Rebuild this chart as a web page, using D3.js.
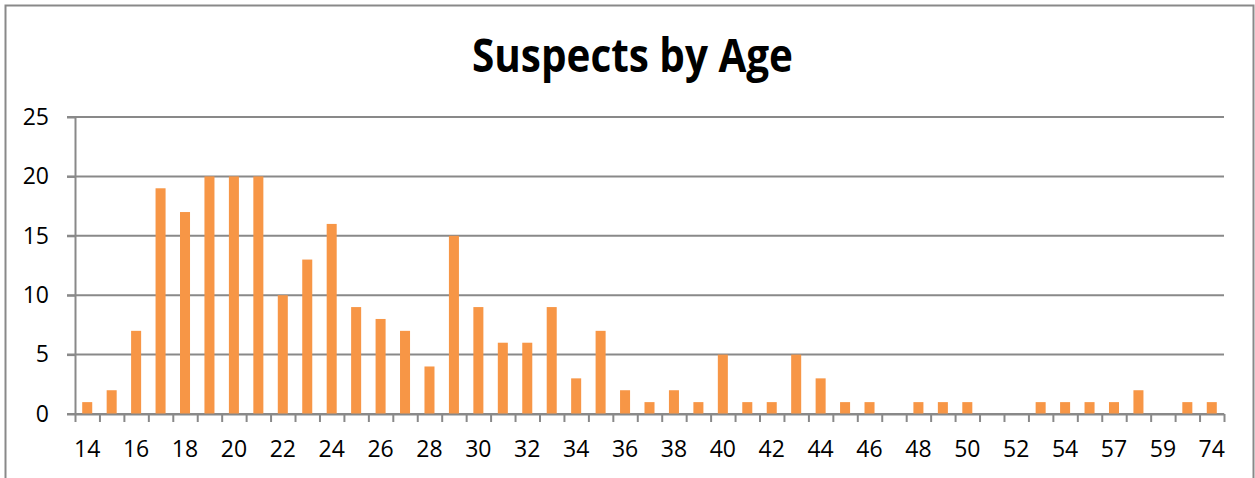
<!DOCTYPE html>
<html>
<head>
<meta charset="utf-8">
<script src="https://cdn.jsdelivr.net/npm/d3@7"></script>
<style>
  html, body { margin: 0; padding: 0; background: #fff; }
  svg { display: block; }
  text { font-family: "Open Sans", "DejaVu Sans", sans-serif; }
</style>
</head>
<body>
<svg id="chart" width="1255" height="478"></svg>
<script>
const title = "Suspects by Age";
const ages = ["14","15","16","17","18","19","20","21","22","23","24","25","26","27","28","29","30","31","32","33","34","35","36","37","38","39","40","41","42","43","44","45","46","47","48","49","50","51","52","53","54","56","57","58","59","60","74"];
const counts = [1,2,7,19,17,20,20,20,10,13,16,9,8,7,4,15,9,6,6,9,3,7,2,1,2,1,5,1,1,5,3,1,1,0,1,1,1,0,0,1,1,1,1,2,0,1,1];
const yTicks = [0,5,10,15,20,25];

const svg = d3.select("#chart");
const plot = {left: 75, right: 1224, top: 117, bottom: 414};
const gridColor = "#898989";
const barColor = "#F79646";

// outer chart border
svg.append("rect")
  .attr("x", 5.5).attr("y", 5.5)
  .attr("width", 1248).attr("height", 520)
  .attr("fill", "none").attr("stroke", gridColor).attr("stroke-width", 2);

const pad = 0.59;
const x = d3.scaleBand().domain(ages).range([plot.left, plot.right])
  .paddingInner(pad).paddingOuter(pad / 2);
const xb = d3.scaleLinear().domain([0, ages.length]).range([plot.left, plot.right]);
const y = d3.scaleLinear().domain([0, 25]).range([plot.bottom, plot.top]);

// gridlines
svg.append("g").selectAll("line").data(yTicks).join("line")
  .attr("x1", plot.left - 8).attr("x2", plot.right)
  .attr("y1", d => y(d)).attr("y2", d => y(d))
  .attr("stroke", gridColor).attr("stroke-width", 2);

// bars
svg.append("g").selectAll("rect").data(ages).join("rect")
  .attr("x", d => x(d))
  .attr("width", x.bandwidth())
  .attr("y", (d, i) => y(counts[i]))
  .attr("height", (d, i) => y(0) - y(counts[i]))
  .attr("fill", barColor);

// y axis
const yAxis = svg.append("g").attr("transform", `translate(${plot.left},0)`)
  .call(d3.axisLeft(y).tickValues(yTicks).tickSize(8).tickSizeOuter(0).tickPadding(18));
yAxis.selectAll("path, line").attr("stroke", gridColor).attr("stroke-width", 2);
yAxis.selectAll("text").attr("font-size", 23).attr("fill", "#000")
  .style("font-family", '"Open Sans", sans-serif');

// x axis boundary ticks
const xTickAxis = svg.append("g").attr("transform", `translate(0,${plot.bottom})`)
  .call(d3.axisBottom(xb).tickValues(d3.range(ages.length + 1)).tickFormat("").tickSize(8).tickSizeOuter(0));
xTickAxis.selectAll("path, line").attr("stroke", gridColor).attr("stroke-width", 2);

// x axis labels (every other category)
const xLab = svg.append("g").attr("transform", `translate(0,${plot.bottom})`)
  .call(d3.axisBottom(x).tickValues(ages.filter((d, i) => i % 2 === 0)).tickSize(0).tickPadding(27));
xLab.select(".domain").remove();
xLab.selectAll("text").attr("font-size", 23).attr("fill", "#000")
  .style("font-family", '"Open Sans", sans-serif');

// title
svg.append("text")
  .attr("x", 632.5).attr("y", 72)
  .attr("text-anchor", "middle")
  .attr("font-size", 46).attr("font-weight", "bold").attr("fill", "#000")
  .attr("textLength", 321).attr("lengthAdjust", "spacingAndGlyphs")
  .text(title);
</script>
</body>
</html>
